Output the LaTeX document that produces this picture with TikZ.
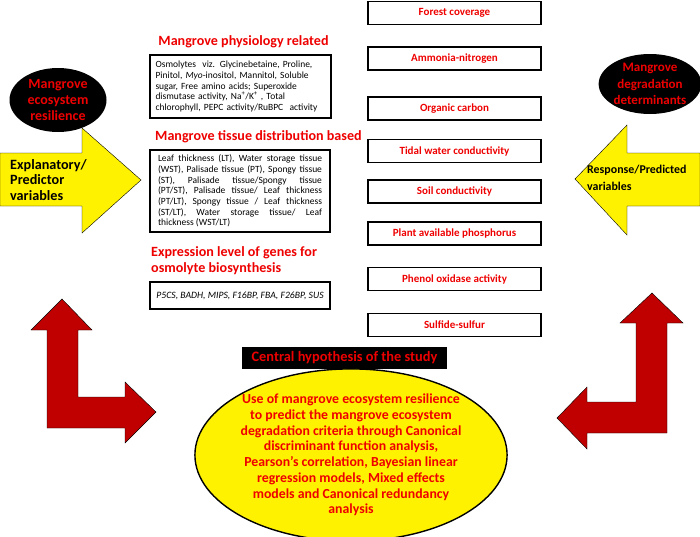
\documentclass[tikz,border=0pt]{standalone}
\usepackage{fontspec}
\setmainfont{Carlito}
\usepackage{tikz}
\usetikzlibrary{positioning}
\usetikzlibrary{shapes.geometric}

\definecolor{txtred}{RGB}{238,0,0}
\definecolor{bendred}{RGB}{192,0,0}

\begin{document}
\begin{tikzpicture}[x=1pt,y=-1pt,
    varbox/.style={draw,line width=1.4pt,minimum width=173pt,minimum height=23pt,inner sep=0pt,
      font=\fontsize{11}{12}\selectfont\bfseries,text=txtred},
    listbox/.style={draw,line width=1.6pt,inner sep=0pt,font=\fontsize{9.5}{10.7}\selectfont},
    grouplab/.style={font=\fontsize{14.1}{16}\selectfont\bfseries,text=txtred,inner sep=0pt},
    blackoval/.style={ellipse,fill=black,inner sep=0pt,align=center,text=txtred},
    bigarrow/.style={fill=yellow},
    bendarrow/.style={fill=bendred}]
  \useasboundingbox (0,0) rectangle (700,536);

  % explanatory side
  \draw [bigarrow] (0,153) -- (82,153) -- (82,128) -- (141,180) -- (82,233) -- (82,206) -- (0,206) -- cycle;
  \node [anchor=west,align=left,inner sep=0pt,font=\fontsize{14.2}{15.5}\selectfont\bfseries] (explan) at (10,180)
    {Explanatory/\\Predictor\\variables};
  \node [blackoval,minimum width=97pt,minimum height=64pt,font=\fontsize{14}{15.8}\selectfont\bfseries] (resil) at (58,100)
    {Mangrove\\ecosystem\\resilience};

  % response side
  \draw [bigarrow] (700,153) -- (627,153) -- (627,125) -- (575,179) -- (627,235) -- (627,206) -- (700,206) -- cycle;
  \node [anchor=west,align=left,inner sep=0pt,font=\fontsize{11.9}{16.5}\selectfont\bfseries] (respon) at (587,178)
    {Response/Predicted\\variables};
  \node [blackoval,minimum width=94pt,minimum height=60pt,font=\fontsize{13}{16.5}\selectfont\bfseries] (degrad) at (650,84)
    {Mangrove\\degradation\\determinants};

  % predictor groups
  \node [listbox,minimum width=181pt,minimum height=63pt,text width=170pt,align=left] (phys) at (240.5,86.5)
    {Osmolytes\ \ viz. Glycinebetaine, Proline,\\
     Pinitol, \textit{Myo}-inositol, Mannitol, Soluble\\
     sugar, Free amino acids; Superoxide\\
     dismutase activity, Na\textsuperscript{+}/K\textsuperscript{+} , Total\\
     chlorophyll, PEPC activity/RuBPC\ \ activity};
  \node [grouplab,above=6pt of phys.north,xshift=3pt] (physlab) {Mangrove physiology related};

  \node [listbox,minimum width=180pt,minimum height=82pt,text width=164pt,align=justify] (tissue) at (240,191)
    {Leaf thickness (LT), Water storage tissue\linebreak
     (WST), Palisade tissue (PT), Spongy tissue\linebreak
     (ST), Palisade tissue/Spongy tissue\linebreak
     (PT/ST), Palisade tissue/ Leaf thickness\linebreak
     (PT/LT), Spongy tissue / Leaf thickness\linebreak
     (ST/LT), Water storage tissue/ Leaf\linebreak
     thickness (WST/LT)};
  \node [grouplab,anchor=west] (tissuelab) at (155,137) {Mangrove tissue distribution based};

  \node [grouplab,anchor=west,align=left] (geneslab) at (151,261) {Expression level of genes for\\osmolyte biosynthesis};
  \node [listbox,minimum width=180pt,minimum height=27pt,font=\fontsize{9.7}{10}\selectfont\itshape] (genes) at (240,295.5)
    {P5CS, BADH, MIPS, F16BP, FBA, F26BP, SUS};

  % response variables
  \node [varbox] (forest)   at (454.5,13)    {Forest coverage};
  \node [varbox] (ammonia)  at (454.5,58.5)  {Ammonia-nitrogen};
  \node [varbox] (carbon)   at (454.5,108.5) {Organic carbon};
  \node [varbox] (tidal)    at (454.5,151)   {Tidal water conductivity};
  \node [varbox] (soil)     at (454.5,191.5) {Soil conductivity};
  \node [varbox] (phosph)   at (454.5,233.5) {Plant available phosphorus};
  \node [varbox] (phenol)   at (454.5,279)   {Phenol oxidase activity};
  \node [varbox] (sulfide)  at (454.5,325)   {Sulfide-sulfur};

  % hypothesis
  \node [fill=black,minimum width=205pt,minimum height=22pt,inner sep=0pt,text=txtred,
    font=\fontsize{14.4}{15}\selectfont\bfseries] (hyplab) at (344.5,358) {Central hypothesis of the study};
  \node [ellipse,draw,line width=1.4pt,fill=yellow,minimum width=288pt,minimum height=156pt,inner sep=0pt,
    align=center,text=txtred,font=\fontsize{13.8}{15.7}\selectfont\bfseries] (hyp) at (351,455)
    {Use of mangrove ecosystem resilience\\
     to predict the mangrove ecosystem\\
     degradation criteria through Canonical\\
     discriminant function analysis,\\
     Pearson’s correlation, Bayesian linear\\
     regression models, Mixed effects\\
     models and Canonical redundancy\\
     analysis};

  % bent arrows
  \draw [bendarrow] (47,428) -- (47,330) -- (31,330) -- (62,299) -- (92,330) -- (78,330) -- (78,397)
    -- (125,397) -- (125,382) -- (156,412) -- (125,443) -- (125,428) -- cycle;
  \draw [bendarrow] (667,433) -- (667,323) -- (683,323) -- (652,293) -- (620,323) -- (636,323) -- (636,402)
    -- (587,402) -- (587,387) -- (557,418) -- (587,449) -- (587,433) -- cycle;
\end{tikzpicture}
\end{document}
